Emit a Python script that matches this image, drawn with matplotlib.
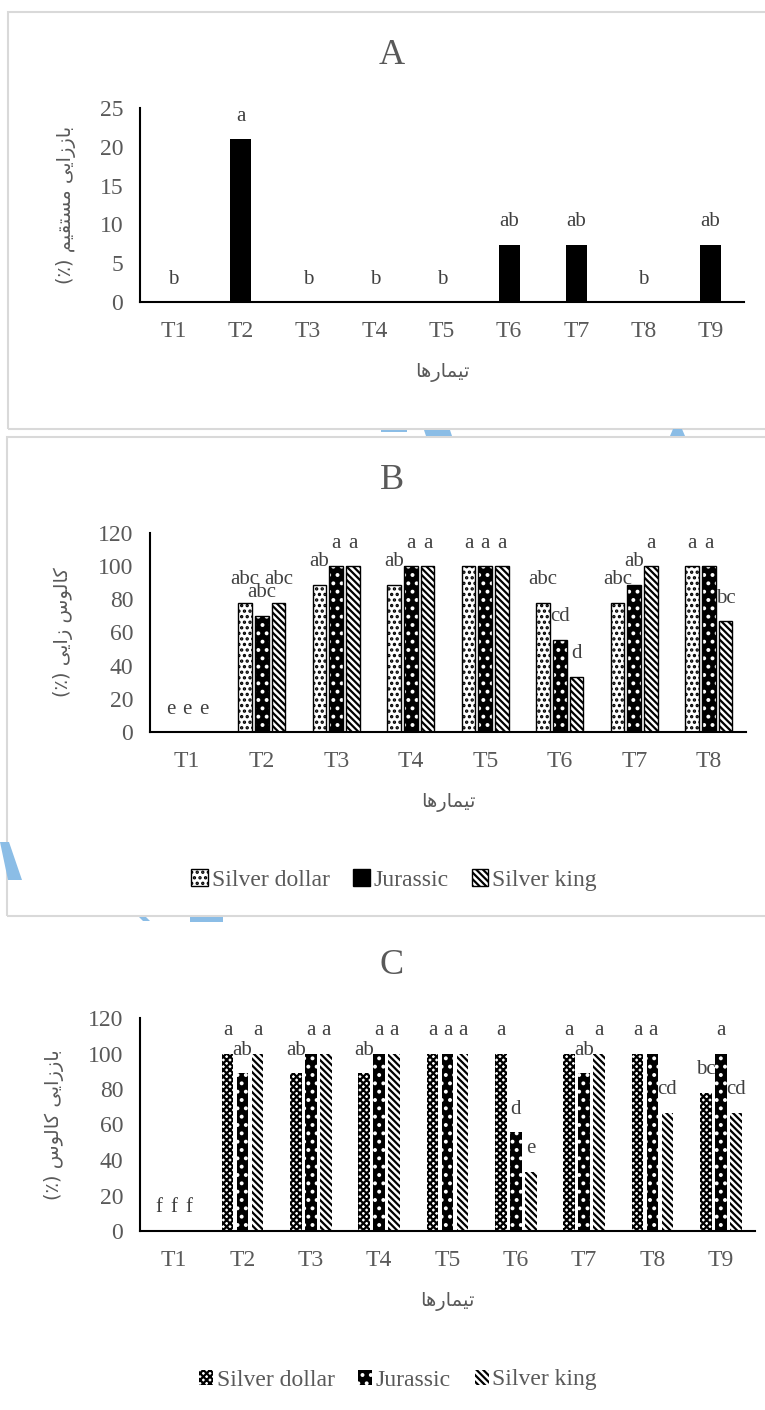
"""Three-panel regeneration / callus-induction bar chart (panels A, B, C)."""
import matplotlib
matplotlib.use("Agg")
import matplotlib.pyplot as plt
from matplotlib.patches import Polygon, Rectangle
import numpy as np

W, H, DPI = 765, 1410, 100

TEXT = "#595959"
LABEL = "#404040"
BORDER = "#d9d9d9"
WATERMARK = "#8bbde6"
SERIF = "Liberation Serif"
PERSIAN = ["DejaVu Sans"]

plt.rcParams["hatch.linewidth"] = 1.6

# Persian strings written in Arabic presentation forms, visual (LTR) order,
# since matplotlib does no shaping / bidi on its own.
BAZZAYI = "\uFBFD\uFBFE\uFE8D\uFEAF\uFEAF\uFE8E\uFE91"
MOSTAGHIM = "\uFEE2\uFBFF\uFED8\uFE98\uFEB4\uFEE3"
KALUS = "\uFEB1\uFEEE\uFEDF\uFE8E\uFB90"
ZAYI = "\uFBFD\uFBFE\uFE8D\uFEAF"
TIMARHA = "\uFE8E\uFEEB\uFEAD\uFE8E\uFEE4\uFBFF\uFE97"
PCT = "(\u066A)"

YLABEL_A = f"{PCT} {MOSTAGHIM} {BAZZAYI}"
YLABEL_B = f"{PCT} {ZAYI} {KALUS}"
YLABEL_C = f"{PCT} {KALUS} {BAZZAYI}"
XLABEL = TIMARHA

# ---- data -----------------------------------------------------------------
TREAT_A = ["T1", "T2", "T3", "T4", "T5", "T6", "T7", "T8", "T9"]
DIRECT_REGEN = [0, 21, 0, 0, 0, 7.4, 7.4, 0, 7.4]
LETTERS_A = ["b", "a", "b", "b", "b", "ab", "ab", "b", "ab"]

CULTIVARS = ["Silver dollar", "Jurassic", "Silver king"]

TREAT_B = ["T1", "T2", "T3", "T4", "T5", "T6", "T7", "T8"]
CALLUS_SD = [0, 77.8, 88.9, 88.9, 100, 77.8, 77.8, 100]
CALLUS_JU = [0, 70, 100, 100, 100, 55.6, 88.9, 100]
CALLUS_SK = [0, 77.8, 100, 100, 100, 33.3, 100, 66.7]
LETTERS_B_SD = ["e", "abc", "ab", "ab", "a", "abc", "abc", "a"]
LETTERS_B_JU = ["e", "abc", "a", "a", "a", "cd", "ab", "a"]
LETTERS_B_SK = ["e", "abc", "a", "a", "a", "d", "a", "bc"]

TREAT_C = ["T1", "T2", "T3", "T4", "T5", "T6", "T7", "T8", "T9"]
REGEN_SD = [0, 100, 88.9, 88.9, 100, 100, 100, 100, 77.8]
REGEN_JU = [0, 88.9, 100, 100, 100, 55.6, 88.9, 100, 100]
REGEN_SK = [0, 100, 100, 100, 100, 33.3, 100, 66.7, 66.7]
LETTERS_C_SD = ["f", "a", "ab", "ab", "a", "a", "a", "a", "bc"]
LETTERS_C_JU = ["f", "ab", "a", "a", "a", "d", "ab", "a", "a"]
LETTERS_C_SK = ["f", "a", "a", "a", "a", "e", "a", "cd", "cd"]

# bar fill styles: (face, hatch, hatch colour)
STYLE_B = [("white", "...", "black"),
           ("black", "..", "white"),
           ("white", "\\" * 5, "black")]
STYLE_C = [("white", "x" * 5, "black"),
           ("black", "..", "white"),
           ("white", "\\" * 5, "black")]


def fx(px):
    return px / W


def fy(py):
    return 1 - py / H


def axes_box(x0, x1, ytop, ybot):
    return [fx(x0), fy(ybot), (x1 - x0) / W, (ybot - ytop) / H]


def hatched_bars(ax, x, vals, width, style, outline):
    face, hatch, hcol = style
    bars = ax.bar(x, vals, width, color=face, edgecolor=hcol,
                  hatch=hatch, linewidth=0, zorder=2)
    if outline:
        ax.bar(x, vals, width, fill=False, edgecolor="black",
               linewidth=1.0, zorder=3)
    return bars


def letters(ax, x, vals, labels):
    for xi, v, t in zip(x, vals, labels):
        ax.annotate(t, (xi, v), xytext=(0, 23), textcoords="offset pixels",
                    ha="center", va="center", fontsize=15, color=LABEL,
                    family=SERIF, zorder=4)


def style_axes(ax, cats, ylim, yticks, ylabel, ylab_x, xlab_y):
    ax.set_xlim(-0.5, len(cats) - 0.5)
    ax.set_ylim(*ylim)
    ax.set_yticks(yticks)
    ax.set_xticks(np.arange(len(cats)))
    ax.set_xticklabels(cats)
    for s in ("top", "right"):
        ax.spines[s].set_visible(False)
    for s in ("left", "bottom"):
        ax.spines[s].set_linewidth(1.5)
        ax.spines[s].set_zorder(5)
    ax.tick_params(axis="both", length=0, labelsize=17, labelcolor=TEXT)
    ax.tick_params(axis="y", pad=12)
    ax.tick_params(axis="x", pad=14)
    for lab in ax.get_xticklabels() + ax.get_yticklabels():
        lab.set_family(SERIF)
    ax.set_ylabel(ylabel, family=PERSIAN, fontsize=14, color=TEXT)
    ax.yaxis.set_label_coords(ylab_x, 0.5)
    ax.yaxis.label.set_va("center")
    ax.set_xlabel(XLABEL, family=PERSIAN, fontsize=14, color=TEXT)
    ax.xaxis.set_label_coords(0.5, xlab_y)
    ax.xaxis.label.set_va("center")


fig = plt.figure(figsize=(W / DPI, H / DPI), dpi=DPI)

# panel frames and watermark fragments behind the charts
fig.patches.append(Rectangle((fx(8), fy(429)), fx(800), (429 - 12) / H,
                             transform=fig.transFigure, fill=False,
                             edgecolor=BORDER, linewidth=1.5))
fig.patches.append(Rectangle((fx(7), fy(916)), fx(800), (916 - 437) / H,
                             transform=fig.transFigure, fill=False,
                             edgecolor=BORDER, linewidth=1.5))
for poly in ([(381, 430), (407, 430), (407, 431.5), (381, 431.5)],
             [(424, 430), (450, 430), (452, 436), (426, 436)],
             [(673, 429), (682, 429), (685, 436), (670, 436)],
             [(0, 842), (9, 842), (22, 880), (8, 880)],
             [(190, 917), (223, 917), (223, 922), (190, 922)],
             [(139, 917), (146, 917), (150, 921), (143, 921)]):
    fig.patches.append(Polygon([(fx(a), fy(b)) for a, b in poly],
                               closed=True, transform=fig.transFigure,
                               facecolor=WATERMARK, edgecolor="none"))

# ---- panel A ---------------------------------------------------------------
axA = fig.add_axes(axes_box(140, 744, 108, 302))
xa = np.arange(len(TREAT_A))
axA.bar(xa, DIRECT_REGEN, 0.31, color="black", zorder=2)
letters(axA, xa, DIRECT_REGEN, LETTERS_A)
style_axes(axA, TREAT_A, (0, 25), np.arange(0, 26, 5), YLABEL_A, -0.1225, -0.361)
fig.text(fx(392), fy(55), "A", ha="center", va="center", fontsize=26,
         color=TEXT, family=SERIF)

# ---- panel B ---------------------------------------------------------------
axB = fig.add_axes(axes_box(150, 746, 533, 732))
xb = np.arange(len(TREAT_B))
series_b = [(CALLUS_SD, LETTERS_B_SD), (CALLUS_JU, LETTERS_B_JU),
            (CALLUS_SK, LETTERS_B_SK)]
for i, ((vals, labs), st) in enumerate(zip(series_b, STYLE_B)):
    pos = xb + (i - 1) * 0.225
    hatched_bars(axB, pos, vals, 0.185, st, outline=True)
    letters(axB, pos, vals, labs)
style_axes(axB, TREAT_B, (0, 120), np.arange(0, 121, 20), YLABEL_B, -0.146, -0.352)
fig.text(fx(392), fy(480), "B", ha="center", va="center", fontsize=26,
         color=TEXT, family=SERIF)
handles_b = [Rectangle((0, 0), 1, 1, facecolor=face, hatch=hatch,
                       edgecolor="black", linewidth=1.0)
             for face, hatch, hcol in STYLE_B]
fig.legend(handles_b, CULTIVARS, loc="center", bbox_to_anchor=(fx(394), fy(880)),
           ncol=3, frameon=False, handlelength=0.7, handleheight=0.7,
           handletextpad=0.15, columnspacing=1.0,
           prop={"family": SERIF, "size": 17}, labelcolor=TEXT)

# ---- panel C ---------------------------------------------------------------
axC = fig.add_axes(axes_box(140, 755, 1018, 1231))
xc = np.arange(len(TREAT_C))
series_c = [(REGEN_SD, LETTERS_C_SD), (REGEN_JU, LETTERS_C_JU),
            (REGEN_SK, LETTERS_C_SK)]
for i, ((vals, labs), st) in enumerate(zip(series_c, STYLE_C)):
    pos = xc + (i - 1) * 0.22
    hatched_bars(axC, pos, vals, 0.17, st, outline=False)
    letters(axC, pos, vals, labs)
style_axes(axC, TREAT_C, (0, 120), np.arange(0, 121, 20), YLABEL_C, -0.14, -0.333)
fig.text(fx(392), fy(965), "C", ha="center", va="center", fontsize=26,
         color=TEXT, family=SERIF)
handles_c = [Rectangle((0, 0), 1, 1, facecolor=face, hatch=hatch,
                       edgecolor=hcol, linewidth=0)
             for face, hatch, hcol in STYLE_C]
fig.legend(handles_c, CULTIVARS, loc="center", bbox_to_anchor=(fx(398), fy(1380)),
           ncol=3, frameon=False, handlelength=0.6, handleheight=0.6,
           handletextpad=0.15, columnspacing=1.0,
           prop={"family": SERIF, "size": 17}, labelcolor=TEXT)

fig.savefig("out.png", dpi=DPI, facecolor="white")
